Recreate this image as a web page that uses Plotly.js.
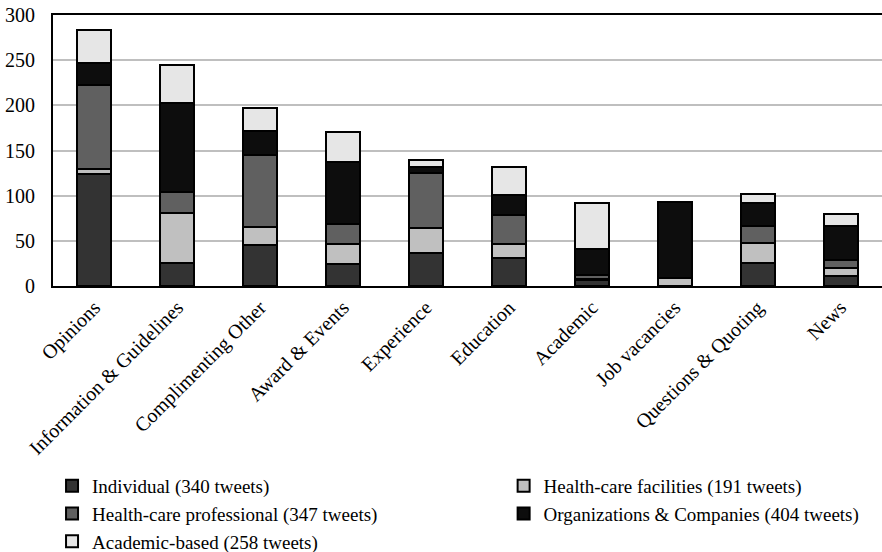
<!DOCTYPE html>
<html>
<head>
<meta charset="utf-8">
<script src="https://cdn.plot.ly/plotly-3.0.1.min.js"></script>
<style>html,body{margin:0;padding:0;background:#fff;}#chart{width:882px;height:552px;}</style>
</head>
<body>
<div id="chart"></div>
<script>
var categories = ["Opinions", "Information & Guidelines", "Complimenting Other", "Award & Events", "Experience", "Education", "Academic", "Job vacancies", "Questions & Quoting", "News"];
var individual   = [124, 26, 45, 24, 37, 31, 7, 0, 25, 11];
var facilities   = [6, 55, 20, 23, 27, 15, 1, 9, 23, 9];
var professional = [93, 23, 80, 22, 61, 33, 4, 0, 18, 9];
var organizations= [24, 99, 27, 68, 7, 22, 29, 84, 26, 37];
var academicBased= [36, 42, 25, 34, 8, 31, 51, 0, 10, 14];
var seriesNames = ["Individual (340 tweets)", "Health-care facilities (191 tweets)", "Health-care professional (347 tweets)", "Organizations & Companies (404 tweets)", "Academic-based (258 tweets)"];
var seriesColors = ["#333333", "#c0c0c0", "#606060", "#0d0d0d", "#e6e6e6"];
var legendColumn = ["legend", "legend2", "legend", "legend2", "legend"];
var yTicks = [0, 50, 100, 150, 200, 250, 300];

var seriesData = [individual, facilities, professional, organizations, academicBased];
var traces = seriesData.map(function(vals, i){
  return {
    type: "bar",
    x: categories,
    y: vals,
    name: seriesNames[i],
    legend: legendColumn[i],
    marker: {color: seriesColors[i], line: {color: "#000", width: 2}}
  };
});

var FAM = "Liberation Serif";
function legendAt(xc){
  return {
    orientation: "v", traceorder: "normal",
    xref: "container", yref: "container",
    x: xc, xanchor: "left", y: 0.154, yanchor: "top",
    font: {family: FAM, size: 19, color: "#000"},
    bgcolor: "rgba(0,0,0,0)",
    itemwidth: 30
  };
}
var layout = {
  width: 882, height: 552,
  margin: {l: 53, r: 0, t: 15, b: 266, autoexpand: false},
  paper_bgcolor: "#fff", plot_bgcolor: "#fff",
  barmode: "stack",
  bargap: 0.59,
  font: {family: FAM, size: 17, color: "#000"},
  showlegend: true,
  legend: legendAt(0.059),
  legend2: legendAt(0.571),
  xaxis: {
    type: "category",
    automargin: false,
    tickangle: -45,
    showline: true, mirror: true, linecolor: "#000", linewidth: 2,
    showgrid: false, ticks: "",
    tickfont: {family: FAM, size: 20, color: "#000"}
  },
  yaxis: {
    automargin: false,
    range: [0, 300],
    tickvals: yTicks,
    showline: true, mirror: true, linecolor: "#000", linewidth: 2,
    showgrid: true, gridcolor: "#bfbfbf", gridwidth: 2,
    zeroline: false, ticks: "",
    ticklabelstandoff: 12,
    tickfont: {family: FAM, size: 20, color: "#000"}
  }
};
Plotly.newPlot("chart", traces, layout, {displayModeBar: false, staticPlot: true});
</script>
</body>
</html>
